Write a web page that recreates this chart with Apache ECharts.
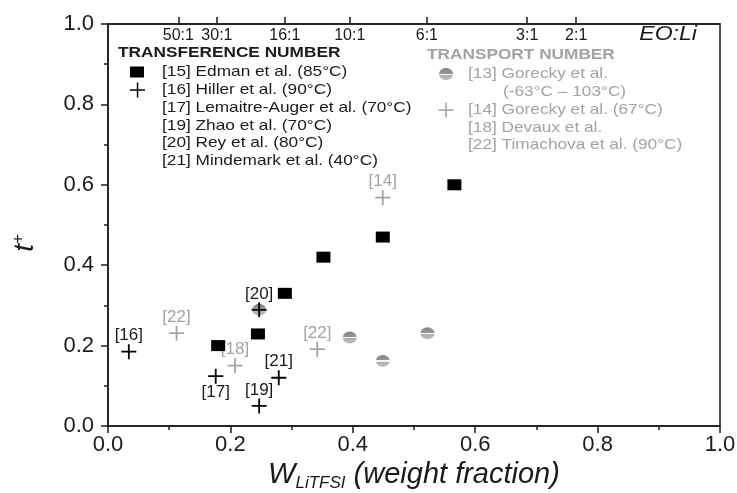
<!DOCTYPE html>
<html>
<head>
<meta charset="utf-8">
<script src="https://cdn.jsdelivr.net/npm/echarts@6/dist/echarts.min.js"></script>
<style>
html, body { margin: 0; padding: 0; background: #fff; }
#chart { width: 737px; height: 493px; }
</style>
</head>
<body>
<div id="chart"></div>
<script>
// EO:Li molar ratio ticks on the top axis (at LiTFSI weight fraction)
const ratioLabels = ['50:1', '30:1', '16:1', '10:1', '6:1', '3:1', '2:1'];
const ratioPos = [0.115, 0.178, 0.289, 0.395, 0.521, 0.685, 0.765];

// transference number, [15] Edman et al.
const edman = [[0.180, 0.200], [0.245, 0.229], [0.289, 0.330], [0.352, 0.420], [0.449, 0.470], [0.566, 0.600]];
// transference number, other refs (black +)
const transferencePlus = [[0.034, 0.185], [0.176, 0.124], [0.247, 0.050], [0.247, 0.289], [0.279, 0.120]];
const transferenceRefs = ['[16]', '[17]', '[19]', '[20]', '[21]'];
const transferenceLabelPos = ['top', 'bottom', 'top', 'top', 'top'];

// transport number, [13] Gorecky et al.
const gorecky = [[0.247, 0.289], [0.395, 0.220], [0.449, 0.162], [0.522, 0.231]];
// transport number, other refs (grey +)
const transportPlus = [[0.112, 0.231], [0.2075, 0.150], [0.342, 0.191], [0.449, 0.568]];
const transportRefs = ['[22]', '[18]', '[22]', '[14]'];

const transferenceLegend = [
  '[15] Edman et al. (85°C)',
  '[16] Hiller et al. (90°C)',
  '[17] Lemaitre-Auger et al. (70°C)',
  '[19] Zhao et al. (70°C)',
  '[20] Rey et al. (80°C)',
  '[21] Mindemark et al. (40°C)'
];
const transportLegend = [
  '[13] Gorecky et al.',
  '(-63°C – 103°C)',
  '[14] Gorecky et al. (67°C)',
  '[18] Devaux et al.',
  '[22] Timachova et al. (90°C)'
];

const FONT = 'Liberation Sans, Arial, sans-serif';
const INK = '#1a1a1a';
const GREY = '#a3a3a3';
const PLUS = 'path://M0,4.4H10V5.6H0Z M4.4,0H5.6V10H4.4Z';

function halfFill() {
  return new echarts.graphic.LinearGradient(0, 0, 0, 1, [
    { offset: 0, color: '#858585' },
    { offset: 0.46, color: '#959595' },
    { offset: 0.46, color: '#f4f4f4' },
    { offset: 0.56, color: '#f4f4f4' },
    { offset: 0.56, color: '#adadad' },
    { offset: 1, color: '#bdbdbd' }
  ]);
}

function legendText(x, y, text, color, bold) {
  return {
    type: 'text', x: x, y: y, scaleX: 1.15, z: 10,
    style: {
      text: text, fill: color, font: (bold ? 'bold ' : '') + '15px ' + FONT,
      textVerticalAlign: 'middle'
    }
  };
}

const chart = echarts.init(document.getElementById('chart'));

const graphics = [];
graphics.push(legendText(118, 53, 'TRANSFERENCE NUMBER', INK, true));
const blackRows = [72, 90, 108, 125.5, 143, 160.5];
transferenceLegend.forEach((t, i) => graphics.push(legendText(162, blackRows[i], t, INK, false)));
graphics.push({ type: 'rect', shape: { x: 130, y: 66.5, width: 14, height: 11 }, style: { fill: '#000' }, z: 10 });
graphics.push({ type: 'rect', shape: { x: 130, y: 89.3, width: 15, height: 1.5 }, style: { fill: '#000' }, z: 10 });
graphics.push({ type: 'rect', shape: { x: 136.8, y: 82.5, width: 1.5, height: 15 }, style: { fill: '#000' }, z: 10 });

graphics.push(legendText(427, 55, 'TRANSPORT NUMBER', GREY, true));
const greyRows = [74, 91.5, 110, 127.5, 144.5];
const greyX = [468, 503, 468, 468, 468];
transportLegend.forEach((t, i) => graphics.push(legendText(greyX[i], greyRows[i], t, GREY, false)));
graphics.push({ type: 'ellipse', shape: { cx: 446, cy: 74, rx: 7, ry: 6 }, style: { fill: halfFill() }, z: 10 });
graphics.push({ type: 'rect', shape: { x: 438.5, y: 109.3, width: 15, height: 1.6 }, style: { fill: GREY }, z: 10 });
graphics.push({ type: 'rect', shape: { x: 445.2, y: 102.5, width: 1.6, height: 15 }, style: { fill: GREY }, z: 10 });

graphics.push({
  type: 'text', x: 697, y: 34, scaleX: 1.1, z: 10,
  style: { text: 'EO:Li', fill: INK, font: 'italic 21px ' + FONT, textAlign: 'right', textVerticalAlign: 'middle' }
});

const axisLine = { lineStyle: { color: INK, width: 1.5 } };

const option = {
  animation: false,
  backgroundColor: '#fff',
  grid: {
    left: 108, right: 17, top: 24, bottom: 67, outerBoundsMode: 'none',
    show: true, borderColor: INK, borderWidth: 1.5
  },
  xAxis: [
    {
      type: 'value', min: 0, max: 1, interval: 0.2, position: 'bottom',
      axisLine: axisLine,
      axisTick: { show: true, inside: false, length: 7, lineStyle: { color: INK, width: 1.5 } },
      minorTick: { show: true, splitNumber: 2, length: 4, lineStyle: { color: INK, width: 1.5 } },
      splitLine: { show: false },
      axisLabel: { color: INK, fontSize: 22, fontFamily: FONT, margin: 8, formatter: v => v.toFixed(1) },
      name: '{w|W}{s|LiTFSI}{n| (weight fraction)}',
      nameLocation: 'middle', nameGap: 26,
      nameTextStyle: {
        rich: {
          w: { fontSize: 29, fontStyle: 'italic', fontFamily: FONT, color: INK },
          s: { fontSize: 17, fontStyle: 'italic', fontFamily: FONT, color: INK, padding: [15, 0, 0, 0] },
          n: { fontSize: 29, fontStyle: 'italic', fontFamily: FONT, color: INK }
        }
      }
    },
    {
      type: 'value', min: 0, max: 1, position: 'top',
      axisLine: axisLine,
      axisTick: { show: true, inside: false, length: 7, customValues: ratioPos, lineStyle: { color: INK, width: 1.5 } },
      splitLine: { show: false },
      axisLabel: {
        inside: true, margin: 4, color: INK, fontSize: 16, fontFamily: FONT, customValues: ratioPos,
        formatter: v => {
          const i = ratioPos.findIndex(p => Math.abs(p - v) < 1e-6);
          return i >= 0 ? ratioLabels[i] : '';
        }
      }
    }
  ],
  yAxis: [
    {
      type: 'value', min: 0, max: 1, interval: 0.2,
      axisLine: axisLine,
      axisTick: { show: true, inside: false, length: 7, lineStyle: { color: INK, width: 1.5 } },
      minorTick: { show: true, splitNumber: 2, length: 4, lineStyle: { color: INK, width: 1.5 } },
      splitLine: { show: false },
      axisLabel: { color: INK, fontSize: 22, fontFamily: FONT, margin: 14, formatter: v => v.toFixed(1) },
      name: '{t|t}{p|+}',
      nameLocation: 'middle', nameGap: 67, nameRotate: 90,
      nameTextStyle: {
        padding: [0, 36, 0, 0],
        rich: {
          t: { fontSize: 28, fontStyle: 'italic', fontFamily: FONT, color: INK },
          p: { fontSize: 17, fontStyle: 'italic', fontFamily: FONT, color: INK, padding: [0, 0, 14, 0] }
        }
      }
    }
  ],
  series: [
    {
      name: '[13] Gorecky et al.', type: 'scatter',
      symbol: 'circle', symbolSize: [14, 12],
      itemStyle: { color: halfFill(), opacity: 1 },
      data: gorecky, z: 2
    },
    {
      name: 'Transport number', type: 'scatter',
      symbol: PLUS, symbolSize: 15,
      itemStyle: { color: GREY, opacity: 1 },
      label: { show: true, color: GREY, fontSize: 17, fontFamily: FONT, distance: 0 },
      data: transportPlus.map((p, i) => ({ value: p, label: { formatter: transportRefs[i], position: 'top' } })),
      z: 3
    },
    {
      name: '[15] Edman et al. (85°C)', type: 'scatter',
      symbol: 'rect', symbolSize: [14, 11],
      itemStyle: { color: '#000', opacity: 1 },
      data: edman, z: 4
    },
    {
      name: 'Transference number', type: 'scatter',
      symbol: PLUS, symbolSize: 15,
      itemStyle: { color: '#000', opacity: 1 },
      label: { show: true, color: INK, fontSize: 17, fontFamily: FONT, distance: 0 },
      data: transferencePlus.map((p, i) => ({
        value: p,
        label: { formatter: transferenceRefs[i], position: transferenceLabelPos[i] }
      })),
      z: 5
    }
  ],
  graphic: graphics
};

chart.setOption(option);
</script>
</body>
</html>
